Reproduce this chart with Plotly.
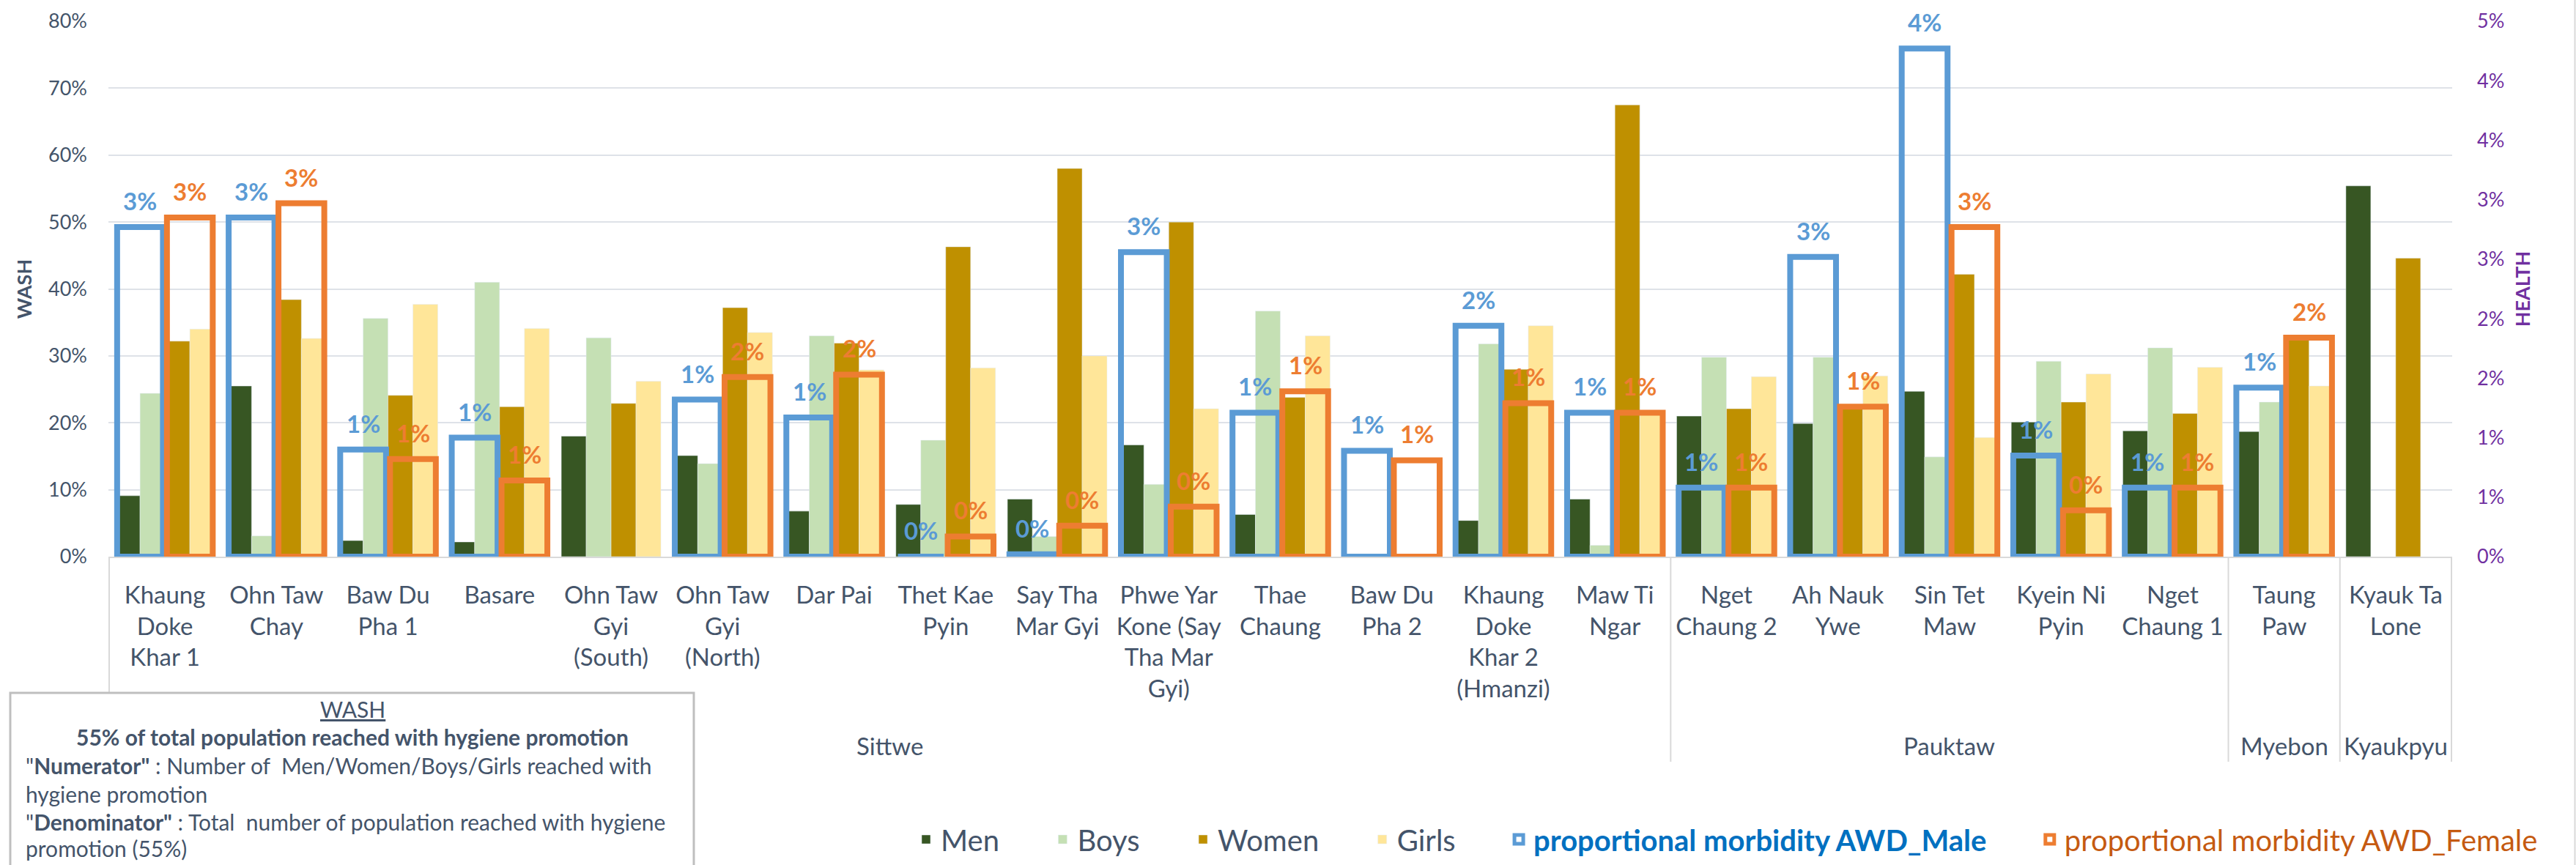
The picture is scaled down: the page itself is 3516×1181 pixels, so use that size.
import plotly.graph_objects as go

# ---------------- data ----------------
districts = ["Sittwe"] * 14 + ["Pauktaw"] * 5 + ["Myebon", "Kyaukpyu"]
locations = [
    "Khaung<br>Doke<br>Khar 1", "Ohn Taw<br>Chay", "Baw Du<br>Pha 1", "Basare",
    "Ohn Taw<br>Gyi<br>(South)", "Ohn Taw<br>Gyi<br>(North)", "Dar Pai", "Thet Kae<br>Pyin",
    "Say Tha<br>Mar Gyi", "Phwe Yar<br>Kone (Say<br>Tha Mar<br>Gyi)", "Thae<br>Chaung",
    "Baw Du<br>Pha 2", "Khaung<br>Doke<br>Khar 2<br>(Hmanzi)", "Maw Ti<br>Ngar",
    "Nget<br>Chaung 2", "Ah Nauk<br>Ywe", "Sin Tet<br>Maw", "Kyein Ni<br>Pyin",
    "Nget<br>Chaung 1", "Taung<br>Paw", "Kyauk Ta<br>Lone",
]
# WASH (% of population reached with hygiene promotion)
men = [9.1, 25.5, 2.4, 2.2, 18.0, 15.1, 6.8, 7.8, 8.6, 16.7, 6.3, None, 5.4, 8.6,
       21.0, 19.9, 24.7, 20.1, 18.8, 18.7, 55.4]
boys = [24.4, 3.1, 35.6, 41.0, 32.7, 13.9, 33.0, 17.4, 3.0, 10.8, 36.7, None, 31.8, 1.7,
        29.8, 29.8, 14.9, 29.2, 31.2, 23.1, None]
women = [32.2, 38.4, 24.1, 22.4, 22.9, 37.2, 31.9, 46.3, 58.0, 50.0, 23.8, None, 28.0, 67.5,
         22.1, 22.3, 42.2, 23.1, 21.4, 32.5, 44.6]
girls = [34.0, 32.6, 37.7, 34.1, 26.2, 33.5, 27.9, 28.2, 30.0, 22.1, 33.0, None, 34.5, 21.3,
         26.9, 27.0, 17.8, 27.3, 28.3, 25.5, None]
# HEALTH (proportional morbidity AWD, %)
awd_male = [2.77, 2.85, 0.90, 1.00, None, 1.32, 1.17, 0.0, 0.02, 2.56, 1.21, 0.89, 1.94, 1.21,
            0.58, 2.52, 4.27, 0.85, 0.58, 1.42, None]
awd_female = [2.85, 2.97, 0.82, 0.64, None, 1.51, 1.53, 0.17, 0.26, 0.42, 1.39, 0.81, 1.29, 1.21,
              0.58, 1.26, 2.77, 0.39, 0.58, 1.84, None]

wash_tickvals = [0, 0.1, 0.2, 0.3, 0.4, 0.5, 0.6, 0.7, 0.8]
health_tickvals = [0, 0.005, 0.01, 0.015, 0.02, 0.025, 0.03, 0.035, 0.04, 0.045]
health_ticktext = ["0%", "1%", "1%", "2%", "2%", "3%", "3%", "4%", "4%", "5%"]

box_lines = [
    "<u>WASH</u>",
    "<b>55% of total population reached with hygiene promotion</b>",
    '"<b>Numerator"</b> : Number of  Men/Women/Boys/Girls reached with',
    "hygiene promotion",
    '"<b>Denominator"</b> : Total  number of population reached with hygiene',
    "promotion (55%)",
]

# ---------------- geometry helpers ----------------
W, H = 3516, 1181
L, R, T, B = 148, 169, 29, 421
PW, PH = W - L - R, H - T - B


def px(x):
    return (x - L) / PW


def py(y):
    return (H - B - y) / PH


def frac(vals):
    return [None if v is None else v / 100 for v in vals]


FONT = "Lato, 'Open Sans', sans-serif"
TXT = "#44546A"
NB = "\u00a0" * 6
BARGAP = 0.107

fig = go.Figure()
for nm, vals, col in [("Men", men, "#375623"), ("Boys", boys, "#C5E0B4"),
                      ("Women", women, "#BF9000"), ("Girls", girls, "#FFE699")]:
    fig.add_trace(go.Bar(x=locations, y=frac(vals), name=nm + NB, marker_color=col,
                         yaxis="y", hoverinfo="skip"))

slot_w = (1 - BARGAP) / 2 * 0.92
fig.add_trace(go.Bar(
    x=locations, y=frac(awd_male), yaxis="y2", width=slot_w,
    name='<span style="color:#0070C0"><b>proportional morbidity AWD_Male</b></span>' + NB,
    marker=dict(color="rgba(0,0,0,0)", line=dict(color="#5B9BD5", width=8)), hoverinfo="skip"))
fig.add_trace(go.Bar(
    x=locations, y=frac(awd_female), yaxis="y2", width=slot_w,
    name='<span style="color:#C55A11">proportional morbidity AWD_Female</span>',
    marker=dict(color="rgba(0,0,0,0)", line=dict(color="#ED7D31", width=8)), hoverinfo="skip"))

annotations = []
cat_px = PW / len(locations)
shift = (1 - BARGAP) * cat_px / 4
for i in range(len(locations)):
    for vals, col, sgn in [(awd_male, "#5B9BD5", -1), (awd_female, "#ED7D31", 1)]:
        v = vals[i]
        if v is None:
            continue
        annotations.append(dict(
            x=i, y=v / 100, xref="x", yref="y2", text=f"<b>{round(v):.0f}%</b>",
            showarrow=False, xshift=sgn * shift, yshift=14, yanchor="bottom",
            font=dict(family=FONT, size=33, color=col)))

# district labels and dividers
shapes = []
uniq = []
for d in districts:
    if d not in uniq:
        uniq.append(d)
bounds = [-0.5]
for d in uniq:
    idx = [i for i, dd in enumerate(districts) if dd == d]
    annotations.append(dict(x=sum(idx) / len(idx), y=py(1018), xref="x", yref="paper",
                            text=d, showarrow=False, yanchor="middle",
                            font=dict(family=FONT, size=33, color=TXT)))
    bounds.append(max(idx) + 0.5)
for b in bounds:
    shapes.append(dict(type="line", xref="x", yref="paper", x0=b, x1=b, y0=0, y1=py(1040),
                       line=dict(color="#D9D9D9", width=2)))

# info box
shapes.append(dict(type="rect", xref="paper", yref="paper", x0=px(14), x1=px(947),
                   y0=py(946), y1=py(1200), fillcolor="white",
                   line=dict(color="#BFBFBF", width=3)))
shapes.append(dict(type="line", xref="paper", yref="paper", x0=px(3514.5), x1=px(3514.5),
                   y0=py(0), y1=py(H), line=dict(color="#D9D9D9", width=2)))
box_y = [968, 1006, 1045, 1084, 1122, 1158]
for k, (txt, yy) in enumerate(zip(box_lines, box_y)):
    centered = k < 2
    annotations.append(dict(
        x=px(481) if centered else px(33), y=py(yy), xref="paper", yref="paper",
        text=txt, showarrow=False, xanchor="center" if centered else "left",
        yanchor="middle", font=dict(family=FONT, size=30, color=TXT)))

fig.update_layout(
    width=W, height=H,
    margin=dict(l=L, r=R, t=T, b=B, pad=0, autoexpand=False),
    paper_bgcolor="white", plot_bgcolor="white",
    font=dict(family=FONT, color=TXT),
    barmode="group", bargap=BARGAP, bargroupgap=0,
    showlegend=True,
    legend=dict(orientation="h", x=px(1244), xanchor="left", y=py(1146), yanchor="middle",
                font=dict(family=FONT, size=40, color=TXT), bgcolor="rgba(0,0,0,0)",
                traceorder="normal"),
    xaxis=dict(type="category", showgrid=False, showline=True, linecolor="#D9D9D9",
               linewidth=2, ticks="", ticklabelstandoff=22, automargin=False,
               tickfont=dict(family=FONT, size=33, color=TXT), fixedrange=True),
    yaxis=dict(range=[0, 0.8], tickvals=wash_tickvals, tickformat=".0%",
               showgrid=True, gridcolor="#DEE2E8", gridwidth=2, zeroline=False,
               showline=False, ticks="", ticklabelstandoff=28, automargin=False,
               tickfont=dict(family=FONT, size=27, color=TXT),
               title=dict(text="<b>WASH</b>", standoff=14,
                          font=dict(family=FONT, size=27, color=TXT))),
    yaxis2=dict(range=[0, 0.045], overlaying="y", side="right", tickvals=health_tickvals,
                ticktext=health_ticktext, showgrid=False, zeroline=False, showline=False,
                ticks="", ticklabelstandoff=33, automargin=False,
                tickfont=dict(family=FONT, size=27, color="#7030A0"),
                title=dict(text="<b>HEALTH</b>", standoff=16,
                           font=dict(family=FONT, size=27, color="#7030A0"))),
    annotations=annotations,
    shapes=shapes,
)

fig.write_html("out.html", config={"displayModeBar": False},
               post_script="document.body.style.margin='0';document.body.style.overflow='hidden';")
